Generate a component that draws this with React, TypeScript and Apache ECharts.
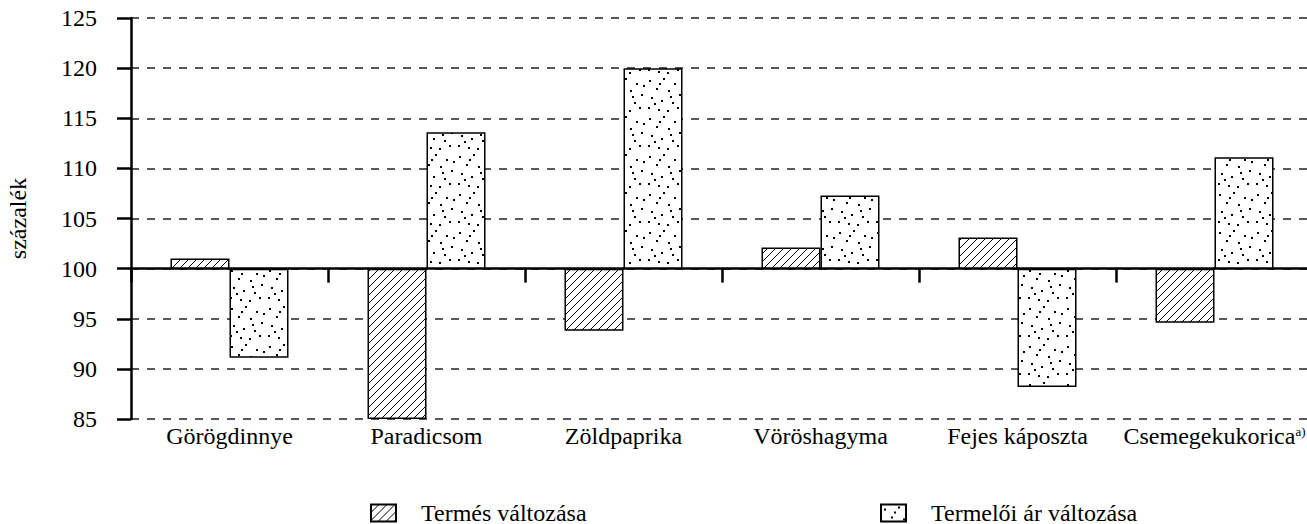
import React, { useEffect, useRef } from "react";
import * as echarts from "echarts";

const categories = ["Görögdinnye", "Paradicsom", "Zöldpaprika", "Vöröshagyma", "Fejes káposzta", "Csemegekukorica"];
const footnotes = ["", "", "", "", "", "a)"];
const yieldChange = [101, 85, 93.8, 102.1, 103.1, 94.6];
const priceChange = [91.1, 113.6, 120, 107.3, 88.2, 111.1];
const seriesNames = ["Termés változása", "Termelői ár változása"];
const yTicks = [85, 90, 95, 100, 105, 110, 115, 120, 125];
const baseline = 100;
const yTitle = "százalék";

const FONT = "'Liberation Serif', 'Times New Roman', serif";
const FS = 24;

function hatchTile(): HTMLCanvasElement {
  const c = document.createElement("canvas");
  const s = 8;
  c.width = s;
  c.height = s;
  const ctx = c.getContext("2d")!;
  ctx.fillStyle = "#fff";
  ctx.fillRect(0, 0, s, s);
  ctx.strokeStyle = "#000";
  ctx.lineWidth = 1;
  ctx.beginPath();
  ctx.moveTo(-1, s + 1);
  ctx.lineTo(s + 1, -1);
  ctx.moveTo(-2, 2);
  ctx.lineTo(2, -2);
  ctx.moveTo(s - 2, s + 2);
  ctx.lineTo(s + 2, s - 2);
  ctx.stroke();
  return c;
}

const dotSpots = [
  [3, 4], [17, 2], [28, 7], [10, 12], [22, 14], [33, 18], [5, 21],
  [15, 24], [26, 26], [2, 31], [12, 33], [21, 34], [31, 31], [8, 27], [35, 9],
  [24, 20], [13, 7],
];

function dotTile(): HTMLCanvasElement {
  const c = document.createElement("canvas");
  const s = 38;
  c.width = s;
  c.height = s;
  const ctx = c.getContext("2d")!;
  ctx.fillStyle = "#fff";
  ctx.fillRect(0, 0, s, s);
  ctx.fillStyle = "#000";
  dotSpots.forEach(([x, y]) => ctx.fillRect(x, y, 2, 2));
  return c;
}

export default function App() {
  const ref = useRef<HTMLDivElement>(null);
  useEffect(() => {
    if (!ref.current) return;
    const chart = echarts.init(ref.current, undefined, { renderer: "svg" });
    const hatch = { image: hatchTile(), repeat: "repeat" } as any;
    const dots = { image: dotTile(), repeat: "repeat" } as any;
    const legendBase = {
      top: 496,
      itemWidth: 25,
      itemHeight: 17,
      icon: "rect",
      textStyle: { fontFamily: FONT, fontSize: FS, color: "#000", padding: [0, 0, 0, 20] },
    };
    chart.setOption({
      animation: false,
      backgroundColor: "#fff",
      grid: { left: 131, right: -6, top: 18, bottom: 105, containLabel: false, outerBoundsMode: "none" },
      legend: [
        { ...legendBase, left: 365, data: [seriesNames[0]] },
        { ...legendBase, left: 875, data: [seriesNames[1]] },
      ],
      xAxis: [
        {
          type: "category",
          data: categories,
          axisLine: { onZero: true, lineStyle: { color: "#000", width: 2.5 } },
          axisTick: { show: true, interval: 0, length: 14, lineStyle: { color: "#000", width: 2.5 } },
          axisLabel: { show: false },
          splitLine: { show: false },
        },
        {
          type: "category",
          data: categories,
          position: "bottom",
          axisLine: { show: false, onZero: false },
          axisTick: { show: false },
          axisLabel: {
            interval: 0,
            margin: 5,
            fontFamily: FONT,
            fontSize: FS,
            color: "#000",
            formatter: (v: string, i: number) => (footnotes[i] ? `${v}{sup|${footnotes[i]}}` : v),
            rich: {
              sup: { fontFamily: FONT, fontSize: 13, color: "#000", padding: [0, 0, 10, 0] },
            },
          },
          splitLine: { show: false },
        },
      ],
      yAxis: {
        type: "value",
        min: yTicks[0] - baseline,
        max: yTicks[yTicks.length - 1] - baseline,
        interval: yTicks[1] - yTicks[0],
        name: yTitle,
        nameLocation: "middle",
        nameGap: 101,
        nameTextStyle: { fontFamily: FONT, fontSize: FS, color: "#000" },
        axisLine: { show: true, lineStyle: { color: "#000", width: 2.5 } },
        axisTick: { show: true, length: 14, lineStyle: { color: "#000", width: 2.5 } },
        axisLabel: {
          margin: 34,
          fontFamily: FONT,
          fontSize: FS,
          color: "#000",
          formatter: (v: number) => String(v + baseline),
        },
        splitLine: { show: true, lineStyle: { color: "#222", width: 1.5, type: [8, 8] } },
      },
      series: [
        {
          name: seriesNames[0],
          type: "bar",
          barWidth: 59,
          barGap: "0%",
          data: yieldChange.map((v) => +(v - baseline).toFixed(2)),
          itemStyle: { color: hatch, borderColor: "#000", borderWidth: 1.5 },
        },
        {
          name: seriesNames[1],
          type: "bar",
          barWidth: 59,
          barGap: "0%",
          data: priceChange.map((v) => +(v - baseline).toFixed(2)),
          itemStyle: { color: dots, borderColor: "#000", borderWidth: 1.5 },
        },
      ],
    });
    return () => chart.dispose();
  }, []);
  return (
    <div
      ref={ref}
      style={{ position: "fixed", left: 0, top: 0, width: 1307, height: 524, background: "#fff" }}
    />
  );
}
